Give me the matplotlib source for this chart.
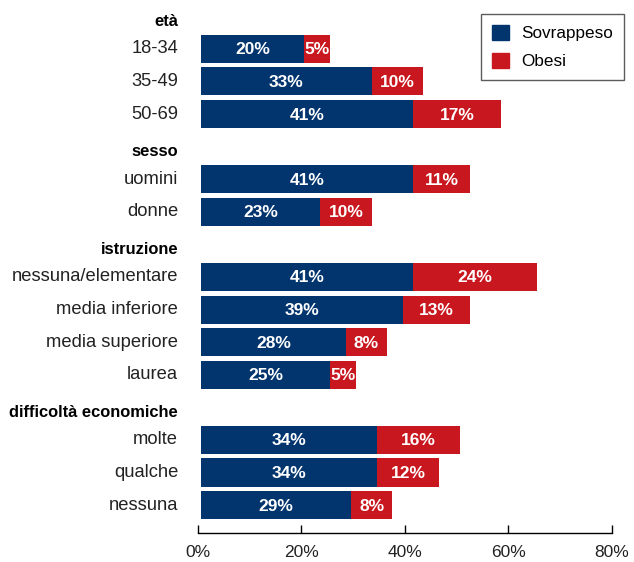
import matplotlib.pyplot as plt
import numpy as np

plt.rcParams['font.family'] = ['Liberation Sans', 'DejaVu Sans']

groups = ['età', 'sesso', 'istruzione', 'difficoltà economiche']
categories = [
    ['18-34', '35-49', '50-69'],
    ['uomini', 'donne'],
    ['nessuna/elementare', 'media inferiore', 'media superiore', 'laurea'],
    ['molte', 'qualche', 'nessuna'],
]
sovrappeso = [[20, 33, 41], [41, 23], [41, 39, 28, 25], [34, 34, 29]]
obesi = [[5, 10, 17], [11, 10], [24, 13, 8, 5], [16, 12, 8]]

blue = '#02346e'
red = '#c8171e'

fig = plt.figure(figsize=(6.34, 5.62), dpi=100)
ax = fig.add_axes([0.312, 0.052, 0.653, 0.948])

pos = 0
for g, cats, sv, ob in zip(groups, categories, sovrappeso, obesi):
    ax.text(-3.8, pos + 0.15, g, ha='right', va='center', fontsize=11.9,
            fontweight='bold', clip_on=False)
    pos += 1
    for c, s, o in zip(cats, sv, ob):
        ax.barh(pos, s, height=0.86, color=blue, left=0.6)
        ax.barh(pos, o, height=0.86, color=red, left=0.6 + s)
        ax.text(0.6 + s / 2, pos + 0.03, f'{s}%', ha='center', va='center',
                color='white', fontweight='bold', fontsize=12.5)
        ax.text(0.6 + s + o / 2, pos + 0.03, f'{o}%', ha='center', va='center',
                color='white', fontweight='bold', fontsize=12.5)
        ax.text(-3.8, pos, c, ha='right', va='center', fontsize=13.2,
                color='#222222', clip_on=False)
        pos += 1

ax.set_ylim(15.85, -0.5)
ax.set_xlim(0, 80)
ax.set_yticks([])
ax.set_xticks([0, 20, 40, 60, 80])
ax.set_xticklabels(['0%', '20%', '40%', '60%', '80%'], fontsize=12.5,
                   color='#222222')
ax.tick_params(axis='x', direction='in', length=6, width=1, pad=9)
for s in ['top', 'right', 'left']:
    ax.spines[s].set_visible(False)
ax.spines['bottom'].set_linewidth(1)

h1 = plt.Rectangle((0, 0), 1, 1, color=blue)
h2 = plt.Rectangle((0, 0), 1, 1, color=red)
leg = ax.legend([h1, h2], ['Sovrappeso', 'Obesi'], loc='upper right',
                bbox_to_anchor=(1.029, 0.974), borderaxespad=0,
                fontsize=12.3, fancybox=False,
                edgecolor='#333333', handlelength=1.0, handleheight=1.0,
                handletextpad=0.7, borderpad=0.65, labelspacing=0.65)
leg.get_frame().set_linewidth(1)

fig.savefig('out.png', dpi=100)
